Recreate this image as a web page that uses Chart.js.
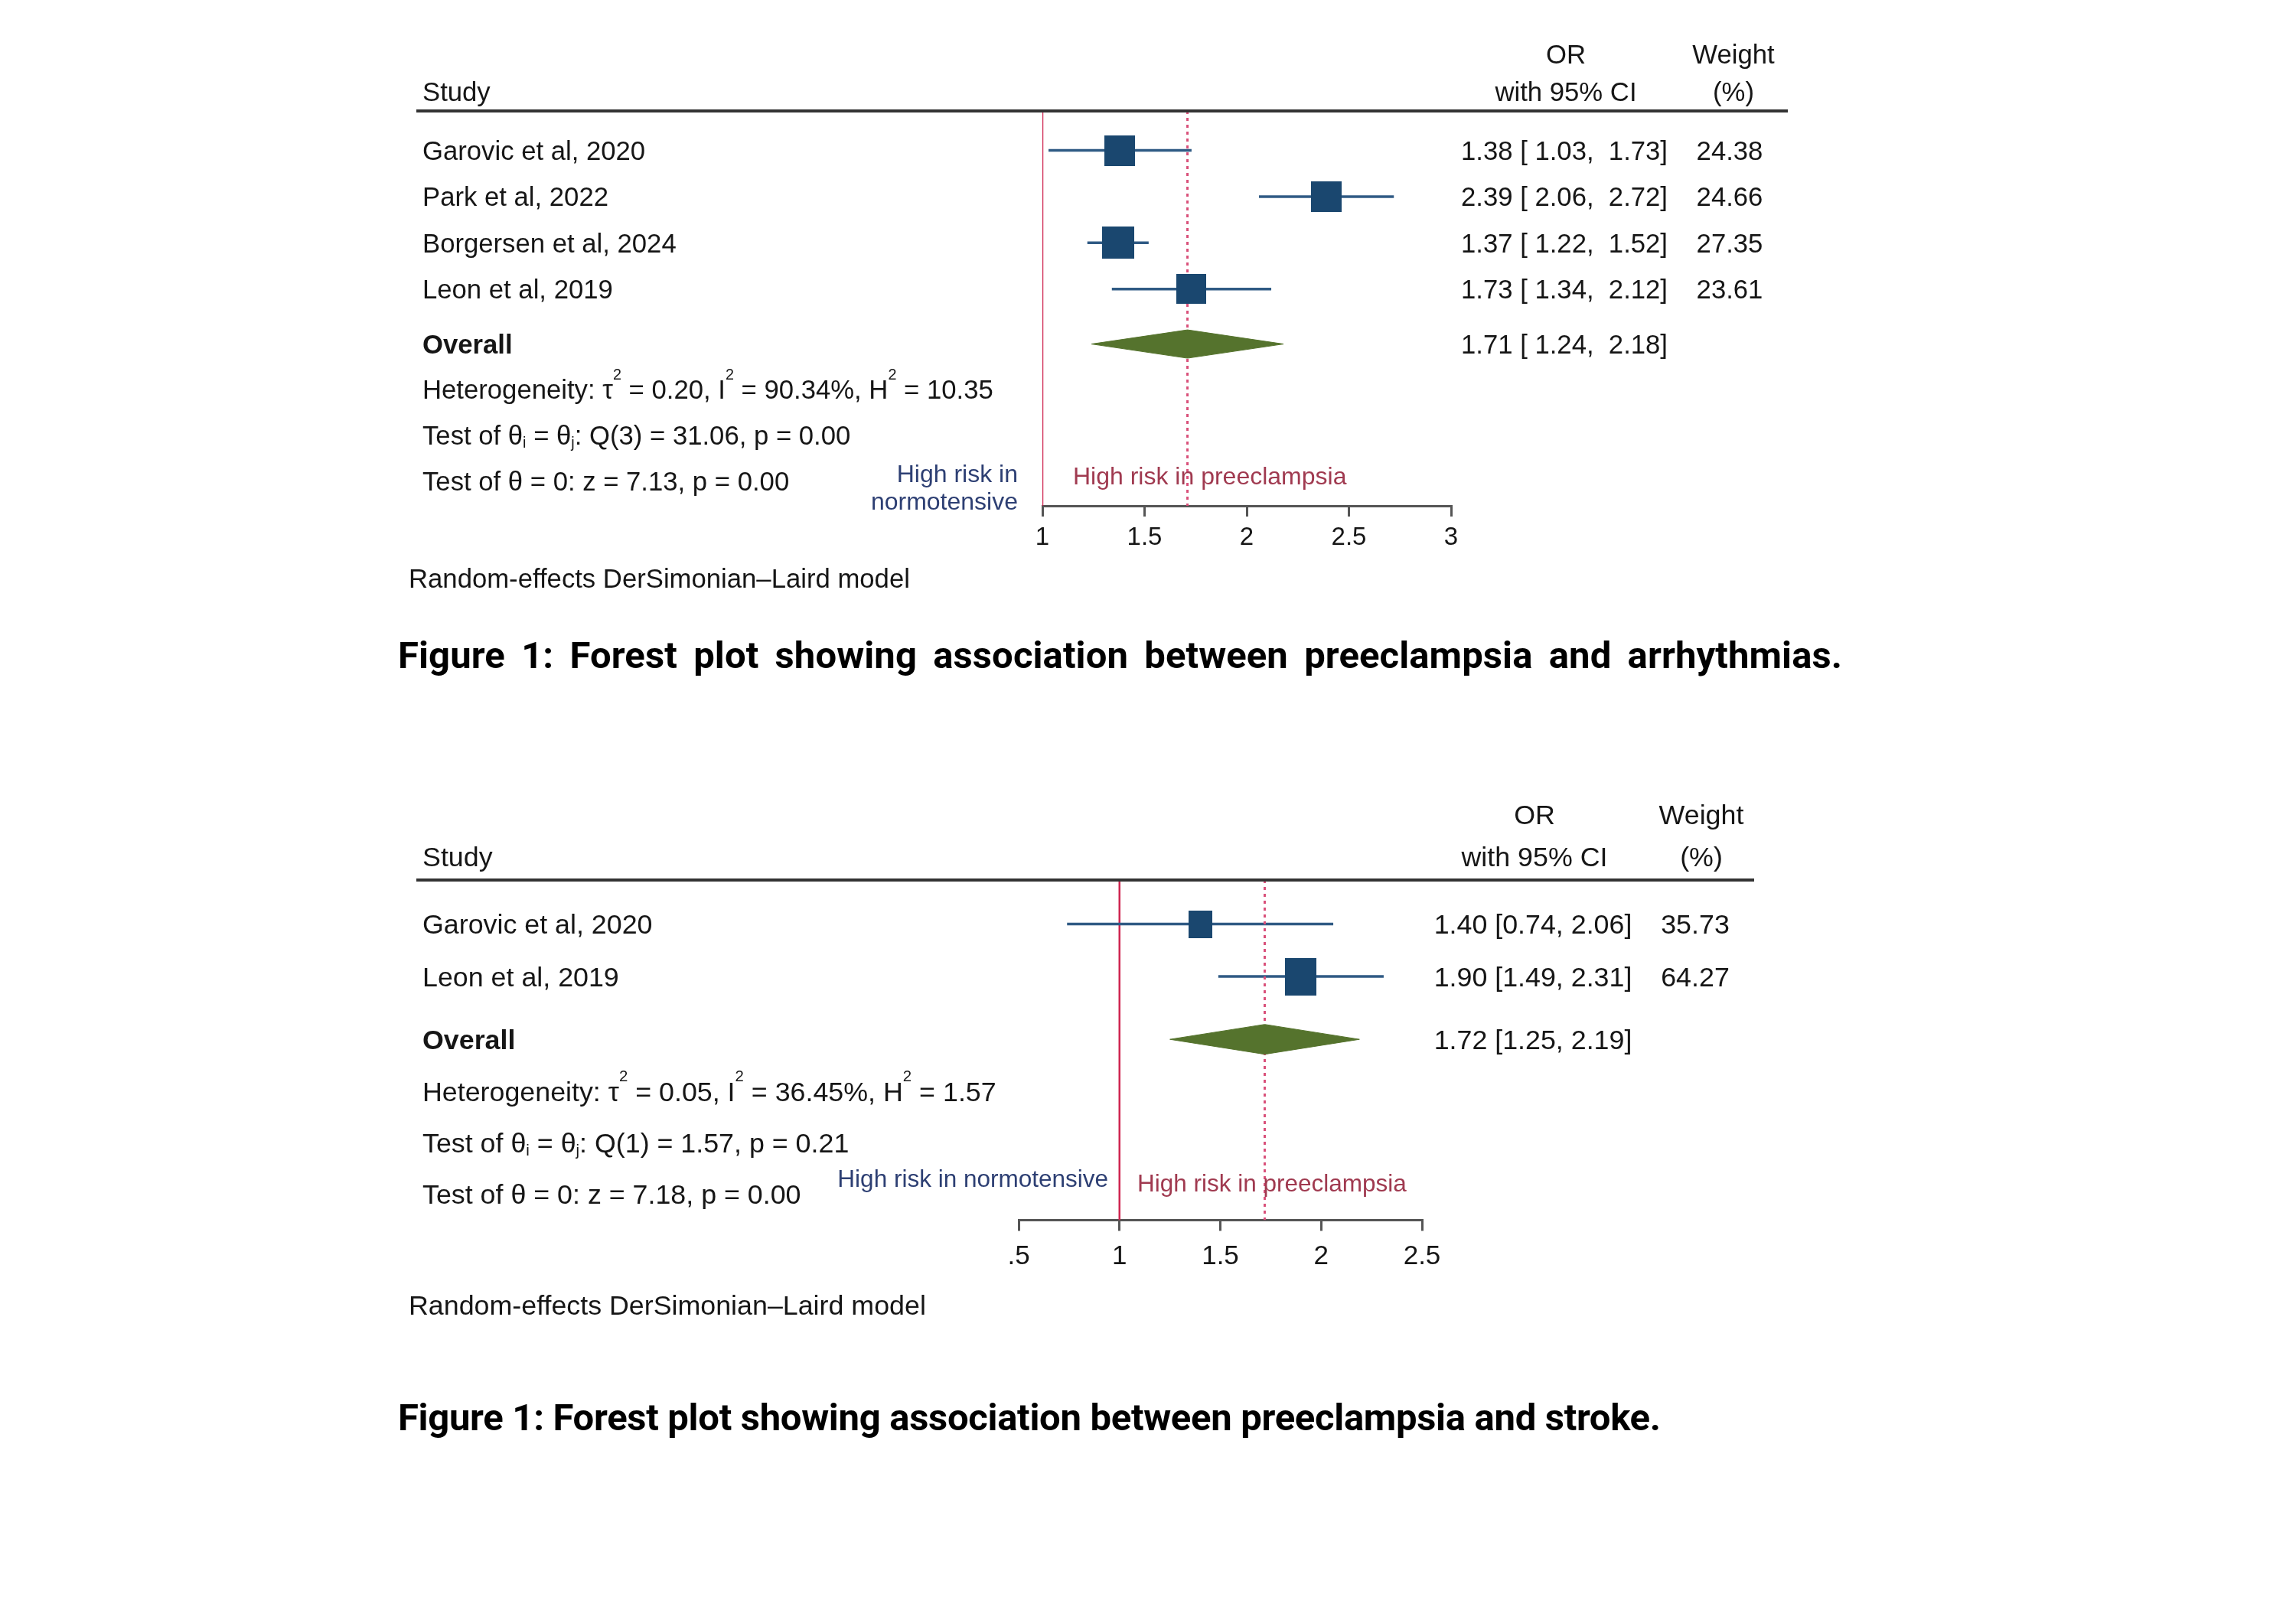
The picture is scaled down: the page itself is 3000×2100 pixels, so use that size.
<!DOCTYPE html>
<html><head><meta charset="utf-8">
<script src="https://cdn.jsdelivr.net/npm/chart.js@4.4.1/dist/chart.umd.min.js"></script>
<style>
html,body{margin:0;padding:0;background:#fff;}
body{width:3000px;height:2100px;position:relative;overflow:hidden;}
canvas{position:absolute;left:0;}
.cap{position:absolute;left:520px;font-family:Roboto,"Noto Sans",sans-serif;font-weight:700;font-size:49px;line-height:49px;color:#000;white-space:nowrap;}
</style></head><body>
<canvas id="c1" width="3000" height="820" style="top:0px;width:3000px;height:820px"></canvas>
<canvas id="c2" width="3000" height="800" style="top:1000px;width:3000px;height:800px"></canvas>
<div class="cap" id="cap1" style="top:832px;word-spacing:9px;letter-spacing:0.1px"></div>
<div class="cap" id="cap2" style="top:1828px;letter-spacing:-0.3px"></div>
<script>
// ---------------- DATA ----------------
// Forest plot 1: arrhythmias
const studies1 = ['Garovic et al, 2020', 'Park et al, 2022', 'Borgersen et al, 2024', 'Leon et al, 2019'];
const or1 = [1.38, 2.39, 1.37, 1.73];
const lo1 = [1.03, 2.06, 1.22, 1.34];
const hi1 = [1.73, 2.72, 1.52, 2.12];
const weight1 = [24.38, 24.66, 27.35, 23.61];
const overall1 = [1.71, 1.24, 2.18];          // estimate, lower, upper
const ticks1 = [1, 1.5, 2, 2.5, 3];
const tickLabels1 = ['1', '1.5', '2', '2.5', '3'];
const hetero1 = ['0.20', '90.34%', '10.35'];  // tau2, I2, H2
const qTest1 = ['3', '31.06', '0.00'];        // df, Q, p
const zTest1 = ['7.13', '0.00'];              // z, p
const caption1 = 'Figure 1: Forest plot showing association between preeclampsia and arrhythmias.';

// Forest plot 2: stroke
const studies2 = ['Garovic et al, 2020', 'Leon et al, 2019'];
const or2 = [1.40, 1.90];
const lo2 = [0.74, 1.49];
const hi2 = [2.06, 2.31];
const weight2 = [35.73, 64.27];
const overall2 = [1.72, 1.25, 2.19];
const ticks2 = [0.5, 1, 1.5, 2, 2.5];
const tickLabels2 = ['.5', '1', '1.5', '2', '2.5'];
const hetero2 = ['0.05', '36.45%', '1.57'];
const qTest2 = ['1', '1.57', '0.21'];
const zTest2 = ['7.18', '0.00'];
const caption2 = 'Figure 1: Forest plot showing association between preeclampsia and stroke.';

const modelNote = 'Random-effects DerSimonian\u2013Laird model';
const leftLabel = 'High risk in normotensive';
const rightLabel = 'High risk in preeclampsia';

// ---------------- HELPERS ----------------
const FONT = '"Liberation Sans", Arial, Helvetica, sans-serif';
const TXT = '#161616';
const NAVY = '#1a476f';

function fmtCI1(e, l, h) { return `${e.toFixed(2)} [ ${l.toFixed(2)},  ${h.toFixed(2)}]`; }
function fmtCI2(e, l, h) { return `${e.toFixed(2)} [${l.toFixed(2)}, ${h.toFixed(2)}]`; }

function statSegs(het, q, z) {
  return [
    [{t: 'Heterogeneity: \u03C4'}, {t: '2', sup: 1}, {t: ' = ' + het[0] + ', I'}, {t: '2', sup: 1},
     {t: ' = ' + het[1] + ', H'}, {t: '2', sup: 1}, {t: ' = ' + het[2]}],
    [{t: 'Test of \u03B8'}, {t: 'i', sub: 1}, {t: ' = \u03B8'}, {t: 'j', sub: 1},
     {t: ': Q(' + q[0] + ') = ' + q[1] + ', p = ' + q[2]}],
    [{t: 'Test of \u03B8 = 0: z = ' + z[0] + ', p = ' + z[1]}]
  ];
}

function drawRich(ctx, x, y, segs, size, color, align, bold) {
  const parts = segs.map(s => {
    const sz = (s.sup || s.sub) ? size * 0.57 : size;
    const f = `${bold ? 'bold ' : ''}${sz}px ${FONT}`;
    ctx.font = f;
    return Object.assign({}, s, {f, w: ctx.measureText(s.t).width});
  });
  const total = parts.reduce((a, p) => a + p.w, 0);
  let cx = align === 'right' ? x - total : align === 'center' ? x - total / 2 : x;
  ctx.textAlign = 'left';
  ctx.textBaseline = 'alphabetic';
  ctx.fillStyle = color;
  for (const p of parts) {
    ctx.font = p.f;
    let yy = y;
    if (p.sup) yy = y - size * 0.73;
    if (p.sub) yy = y + size * 0.12;
    ctx.fillText(p.t, cx, yy);
    cx += p.w;
  }
}
function txt(ctx, s, x, y, size, color, align, bold) {
  drawRich(ctx, x, y, [{t: s}], size, color, align, bold);
}

function makeForest(canvasId, d, L) {
  const n = d.studies.length;
  const rowY = i => i + 1;
  const yMin = 1 + (L.top - L.firstRow) / L.rowH;
  const yMax = 1 + (L.bottom - L.firstRow) / L.rowH;
  const ovRow = n + L.overallGap;
  const statRows = [0, 1, 2].map(k => ovRow + L.statsGap + k * L.statsStep);

  const datasets = [];
  // null line
  datasets.push({type: 'line', data: [{x: 1, y: yMin}, {x: 1, y: yMax}], borderColor: '#cf2450',
    borderWidth: 2.5, pointRadius: 0, order: 6});
  // overall dashed line
  datasets.push({type: 'line', data: [{x: d.overall[0], y: yMin}, {x: d.overall[0], y: yMax}],
    borderColor: '#d9507a', borderWidth: 3, borderDash: [4, 5], pointRadius: 0, order: 4});
  // CIs
  d.or.forEach((v, i) => {
    datasets.push({type: 'line', data: [{x: d.lo[i], y: rowY(i)}, {x: d.hi[i], y: rowY(i)}],
      borderColor: '#2f5a84', borderWidth: 3.5, pointRadius: 0, order: 5});
  });
  // weighted boxes
  const boxes = d.weight.map(w => {
    const c = document.createElement('canvas');
    c.width = Math.round(L.boxKx * Math.sqrt(w));
    c.height = Math.round(L.boxKy * Math.sqrt(w));
    const g = c.getContext('2d');
    g.fillStyle = NAVY; g.fillRect(0, 0, c.width, c.height);
    return c;
  });
  datasets.push({type: 'scatter', data: d.or.map((v, i) => ({x: v, y: rowY(i)})),
    pointStyle: boxes, pointRadius: 6, order: 1});
  // overall diamond
  const [est, dlo, dhi] = d.overall;
  const h = L.diamondHalf / L.rowH;
  datasets.push({type: 'line', data: [{x: dlo, y: ovRow}, {x: est, y: ovRow - h}, {x: dhi, y: ovRow},
    {x: est, y: ovRow + h}, {x: dlo, y: ovRow}], borderColor: '#55732d', backgroundColor: '#55732d',
    borderWidth: 1, fill: 'shape', pointRadius: 0, tension: 0, order: 2});

  const textPlugin = {
    id: 'forestText',
    afterDraw(chart) {
      const ctx = chart.ctx;
      const ys = chart.scales.y;
      const ca = chart.chartArea;
      const S = L.font;
      const cap = S * 0.358;
      ctx.save();
      // header rule
      ctx.strokeStyle = '#333'; ctx.lineWidth = 4;
      ctx.beginPath(); ctx.moveTo(L.ruleLeft, ca.top); ctx.lineTo(L.ruleRight, ca.top); ctx.stroke();
      // headers
      txt(ctx, 'Study', L.nameX, L.hdr2, S, TXT, 'left');
      txt(ctx, 'OR', L.orHdrX, L.hdr1, S, TXT, 'center');
      txt(ctx, 'with 95% CI', L.orHdrX, L.hdr2, S, TXT, 'center');
      txt(ctx, 'Weight', L.wHdrX, L.hdr1, S, TXT, 'center');
      txt(ctx, '(%)', L.wHdrX, L.hdr2, S, TXT, 'center');
      // study rows
      d.studies.forEach((s, i) => {
        const y = ys.getPixelForValue(rowY(i)) + cap;
        txt(ctx, s, L.nameX, y, S, TXT, 'left');
        txt(ctx, d.fmt(d.or[i], d.lo[i], d.hi[i]), L.orX, y, S, TXT, 'center');
        txt(ctx, d.weight[i].toFixed(2), L.wX, y, S, TXT, 'center');
      });
      // overall
      const oy = ys.getPixelForValue(ovRow) + cap;
      txt(ctx, 'Overall', L.nameX, oy, S, TXT, 'left', true);
      txt(ctx, d.fmt(d.overall[0], d.overall[1], d.overall[2]), L.orX, oy, S, TXT, 'center');
      // stats
      statSegs(d.het, d.q, d.z).forEach((segs, k) => {
        drawRich(ctx, L.nameX, ys.getPixelForValue(statRows[k]) + cap, segs, S, TXT, 'left');
      });
      // direction labels
      L.leftLines.forEach((ln, k) => txt(ctx, ln, L.leftLblX, L.leftLblY[k], L.lblFont, '#2d3f73', 'right'));
      txt(ctx, rightLabel, L.rightLblX, L.rightLblY, L.lblFont, '#a03a50', 'left');
      // model note
      txt(ctx, modelNote, L.noteX, L.noteY, S, TXT, 'left');
      ctx.restore();
    }
  };

  return new Chart(document.getElementById(canvasId), {
    data: {datasets},
    plugins: [textPlugin],
    options: {
      responsive: false, animation: false, devicePixelRatio: 1, events: [],
      layout: {padding: {left: L.left, right: 3000 - L.right, top: L.top,
        bottom: L.canvasH - L.bottom - L.xAxisH}},
      plugins: {legend: {display: false}, tooltip: {enabled: false}},
      scales: {
        x: {
          type: 'linear', min: d.ticks[0], max: d.ticks[d.ticks.length - 1],
          afterBuildTicks: ax => { ax.ticks = d.ticks.map(v => ({value: v})); },
          afterFit: ax => { ax.height = L.xAxisH; },
          ticks: {callback: (v, i) => d.tickLabels[i], font: {family: FONT, size: L.tickFont},
            color: TXT, padding: L.tickPad, autoSkip: false, maxRotation: 0, minRotation: 0},
          grid: {display: true, drawOnChartArea: false, drawTicks: true, tickLength: 14,
            color: '#555', lineWidth: 3},
          border: {display: true, color: '#555', width: 3}
        },
        y: {type: 'linear', reverse: true, min: yMin, max: yMax, display: false}
      }
    }
  });
}

makeForest('c1', {
  studies: studies1, or: or1, lo: lo1, hi: hi1, weight: weight1, overall: overall1,
  ticks: ticks1, tickLabels: tickLabels1, het: hetero1, q: qTest1, z: zTest1, fmt: fmtCI1
}, {
  canvasH: 820, left: 1362, right: 1896, top: 145, bottom: 661, xAxisH: 90,
  firstRow: 196.5, rowH: 60.4, overallGap: 1.19, statsGap: 0.98, statsStep: 0.99,
  boxKx: 8.1, boxKy: 8.1, diamondHalf: 18.5,
  font: 34.7, tickFont: 33, tickPad: 8, lblFont: 32,
  nameX: 552, hdr1: 83, hdr2: 132, orHdrX: 2046, wHdrX: 2265, orX: 2044, wX: 2260,
  ruleLeft: 544, ruleRight: 2336,
  leftLines: ['High risk in', 'normotensive'], leftLblX: 1330, leftLblY: [630, 666],
  rightLblX: 1402, rightLblY: 633, noteX: 534, noteY: 768
});

makeForest('c2', {
  studies: studies2, or: or2, lo: lo2, hi: hi2, weight: weight2, overall: overall2,
  ticks: ticks2, tickLabels: tickLabels2, het: hetero2, q: qTest2, z: zTest2, fmt: fmtCI2
}, {
  canvasH: 800, left: 1331, right: 1858, top: 150, bottom: 594.5, xAxisH: 90,
  firstRow: 207.5, rowH: 68.5, overallGap: 1.2, statsGap: 0.99, statsStep: 0.98,
  boxKx: 5.15, boxKy: 6.05, diamondHalf: 19.5,
  font: 35.8, tickFont: 35, tickPad: 13, lblFont: 31.5,
  nameX: 552, hdr1: 77, hdr2: 132, orHdrX: 2005, wHdrX: 2223, orX: 2003, wX: 2215,
  ruleLeft: 544, ruleRight: 2292,
  leftLines: [leftLabel], leftLblX: 1448, leftLblY: [551],
  rightLblX: 1486, rightLblY: 557, noteX: 534, noteY: 718
});

document.getElementById('cap1').textContent = caption1;
document.getElementById('cap2').textContent = caption2;
</script>
</body></html>
